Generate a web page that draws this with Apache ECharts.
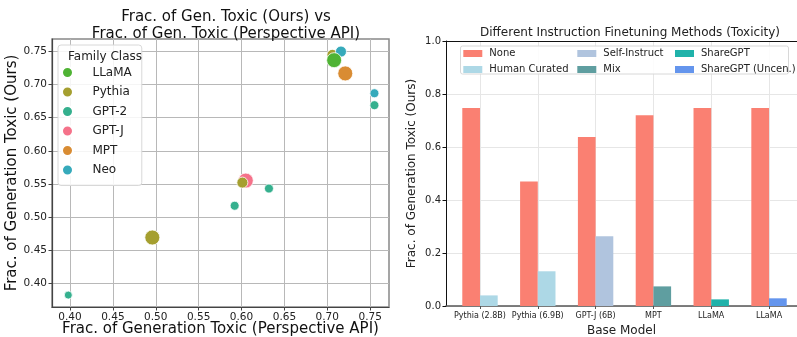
<!DOCTYPE html>
<html>
<head>
<meta charset="utf-8">
<script src="https://cdn.jsdelivr.net/npm/echarts@6/dist/echarts.min.js"></script>
<style>
  html, body { margin: 0; padding: 0; background: #fff; }
  #chart { width: 797px; height: 337px; }
</style>
</head>
<body>
<div id="chart"></div>
<script type="text/javascript">
// ---- left panel: [perspective api, ours, marker size] per family ----
var famLegend = ['LLaMA', 'Pythia', 'GPT-2', 'GPT-J', 'MPT', 'Neo'];
var famColors = ['#4fb334', '#a59f30', '#35b08e', '#f5728a', '#d98c33', '#36aabb'];
var llamaPts  = [[0.708, 0.737, 15]];
var pythiaPts = [[0.706, 0.745, 11], [0.601, 0.552, 11], [0.496, 0.469, 15]];
var gpt2Pts   = [[0.755, 0.669, 9], [0.632, 0.543, 9], [0.592, 0.517, 9], [0.398, 0.382, 8]];
var gptjPts   = [[0.605, 0.555, 15]];
var mptPts    = [[0.721, 0.717, 15]];
var neoPts    = [[0.716, 0.750, 11], [0.755, 0.687, 9]];
var scatterXTicks = [0.40, 0.45, 0.50, 0.55, 0.60, 0.65, 0.70, 0.75];
var scatterYTicks = [0.40, 0.45, 0.50, 0.55, 0.60, 0.65, 0.70, 0.75];

// ---- right panel ----
var baseModels = ['Pythia (2.8B)', 'Pythia (6.9B)', 'GPT-J (6B)', 'MPT', 'LLaMA', 'LLaMA'];
var noneVals   = [0.747, 0.470, 0.638, 0.720, 0.747, 0.747];
var ftMethods  = ['Human Curated', 'Human Curated', 'Self-Instruct', 'Mix', 'ShareGPT', 'ShareGPT (Uncen.)'];
var ftVals     = [0.040, 0.131, 0.263, 0.074, 0.025, 0.029];
var methodNames  = ['None', 'Human Curated', 'Self-Instruct', 'Mix', 'ShareGPT', 'ShareGPT (Uncen.)'];
var methodColors = ['#fa8072', '#add8e6', '#b0c4de', '#5f9ea0', '#20b2aa', '#6495ed'];
var barTicks = [0, 1, 2, 3, 4, 5];

var FONT = 'DejaVu Sans';
var chart = echarts.init(document.getElementById('chart'));

var famData = { 'LLaMA': llamaPts, 'Pythia': pythiaPts, 'GPT-2': gpt2Pts, 'GPT-J': gptjPts, 'MPT': mptPts, 'Neo': neoPts };
var drawOrder = ['GPT-J', 'GPT-2', 'Pythia', 'MPT', 'Neo', 'LLaMA'];

var series = [];
drawOrder.forEach(function (f) {
  series.push({
    name: f, type: 'scatter', xAxisIndex: 0, yAxisIndex: 0,
    data: famData[f],
    symbolSize: function (d) { return d[2]; },
    itemStyle: { color: famColors[famLegend.indexOf(f)], borderColor: '#fff', borderWidth: 0.8, opacity: 1 },
    emphasis: { disabled: true }
  });
});

// None bars
series.push({
  name: 'None', type: 'bar', xAxisIndex: 1, yAxisIndex: 1, stack: 'base',
  barWidth: 17.7, barGap: '0%',
  data: noneVals.map(function (v, i) { return [i, v]; }),
  itemStyle: { color: methodColors[0] }
});
// finetuned bars, one series per method
methodNames.slice(1).forEach(function (m) {
  var d = [];
  ftMethods.forEach(function (fm, i) { if (fm === m) d.push([i, ftVals[i]]); });
  series.push({
    name: m, type: 'bar', xAxisIndex: 1, yAxisIndex: 1, stack: 'ft',
    barWidth: 17.7, barGap: '0%',
    data: d,
    itemStyle: { color: methodColors[methodNames.indexOf(m)] }
  });
});

function barLegend(names, left) {
  return {
    orient: 'vertical', left: left, top: 48.5, padding: 0,
    data: names, icon: 'rect', itemWidth: 19, itemHeight: 7, itemGap: 6,
    textStyle: { fontFamily: FONT, fontSize: 10, color: '#222', padding: [0, 0, 0, 2] },
    selectedMode: false, z: 5
  };
}

var option = {
  animation: false,
  textStyle: { fontFamily: FONT },
  title: [
    { text: 'Frac. of Gen. Toxic (Ours) vs\nFrac. of Gen. Toxic (Perspective API)',
      left: 221, top: 4, textAlign: 'center',
      textStyle: { fontFamily: FONT, fontSize: 15, fontWeight: 'normal', color: '#111', lineHeight: 17 } },
    { text: 'Family Class', left: 100, top: 46, textAlign: 'center',
      textStyle: { fontFamily: FONT, fontSize: 12, fontWeight: 'normal', color: '#222' }, z: 6 },
    { text: 'Different Instruction Finetuning Methods (Toxicity)', left: 625, top: 22, textAlign: 'center',
      textStyle: { fontFamily: FONT, fontSize: 12, fontWeight: 'normal', color: '#222' } }
  ],
  legend: [
    {
      orient: 'vertical', left: 58, top: 45, padding: [21, 10, 9, 3],
      data: famLegend, icon: 'circle', itemWidth: 30, itemHeight: 11, itemGap: 6.5,
      textStyle: { fontFamily: FONT, fontSize: 12, color: '#222', padding: [0, 0, 0, 5] },
      backgroundColor: 'rgba(255,255,255,0.85)', borderColor: '#d8d8d8', borderWidth: 1, borderRadius: 3,
      selectedMode: false, z: 5
    },
    barLegend(['None', 'Human Curated'], 463.3),
    barLegend(['Self-Instruct', 'Mix'], 577.3),
    barLegend(['ShareGPT', 'ShareGPT (Uncen.)'], 675)
  ],
  graphic: [
    { type: 'rect', left: 460, top: 45.5, shape: { width: 328, height: 28, r: 2 },
      style: { fill: 'rgba(255,255,255,0.85)', stroke: '#d8d8d8', lineWidth: 1 }, z: 3 }
  ],
  grid: [
    { left: 52, top: 39, width: 337, height: 268, show: true, borderColor: '#888', borderWidth: 1.5,
      backgroundColor: 'transparent', outerBoundsMode: 'none' },
    { left: 446, top: 41, width: 351, height: 265, outerBoundsMode: 'none' }
  ],
  xAxis: [
    {
      type: 'value', gridIndex: 0, min: 0.379, max: 0.772,
      name: 'Frac. of Generation Toxic (Perspective API)', nameLocation: 'middle', nameGap: 15,
      nameMoveOverlap: false,
      nameTextStyle: { fontFamily: FONT, fontSize: 15, color: '#111' },
      axisLine: { show: true, onZero: false, lineStyle: { color: '#444', width: 1.2 } },
      axisTick: { show: true, length: 3.5, lineStyle: { color: '#444' }, customValues: scatterXTicks },
      axisLabel: { customValues: scatterXTicks, fontSize: 10.5, color: '#222', margin: 5,
        formatter: function (v) { return v.toFixed(2); } },
      splitLine: { show: true, lineStyle: { color: '#b8b8b8', width: 1 } }
    },
    {
      type: 'value', gridIndex: 1, min: -0.588, max: 5.484,
      name: 'Base Model', nameLocation: 'middle', nameGap: 19,
      nameMoveOverlap: false,
      nameTextStyle: { fontFamily: FONT, fontSize: 12, color: '#222' },
      axisLine: { show: true, onZero: false, lineStyle: { color: '#555', width: 1.5 } },
      axisTick: { show: true, length: 3, lineStyle: { color: '#555' }, customValues: barTicks },
      axisLabel: { customValues: barTicks, fontSize: 8, color: '#222', margin: 6,
        formatter: function (v) { return baseModels[Math.round(v)]; } },
      splitLine: { show: true, lineStyle: { color: '#e6e6e6', width: 1 } }
    },
    {
      type: 'value', gridIndex: 1, position: 'top', min: 0, max: 1,
      axisLine: { show: true, onZero: false, lineStyle: { color: '#111', width: 1 } },
      axisTick: { show: false }, axisLabel: { show: false }, splitLine: { show: false }
    }
  ],
  yAxis: [
    {
      type: 'value', gridIndex: 0, min: 0.364, max: 0.769,
      name: 'Frac. of Generation Toxic (Ours)', nameLocation: 'middle', nameGap: 27,
      nameTextStyle: { fontFamily: FONT, fontSize: 15, color: '#111' },
      axisLine: { show: true, onZero: false, lineStyle: { color: '#444', width: 1.2 } },
      axisTick: { show: true, length: 3.5, lineStyle: { color: '#444' }, customValues: scatterYTicks },
      axisLabel: { customValues: scatterYTicks, fontSize: 10.5, color: '#222', margin: 5,
        formatter: function (v) { return v.toFixed(2); } },
      splitLine: { show: true, lineStyle: { color: '#b8b8b8', width: 1 } }
    },
    {
      type: 'value', gridIndex: 1, min: 0, max: 1, interval: 0.2,
      name: 'Frac. of Generation Toxic (Ours)', nameLocation: 'middle', nameGap: 28,
      nameTextStyle: { fontFamily: FONT, fontSize: 12, color: '#222' },
      axisLine: { show: true, onZero: false, lineStyle: { color: '#111', width: 1 } },
      axisTick: { show: true, length: 3.5, lineStyle: { color: '#111' } },
      axisLabel: { fontSize: 10, color: '#222', margin: 5,
        formatter: function (v) { return v.toFixed(1); } },
      splitLine: { show: true, lineStyle: { color: '#e6e6e6', width: 1 } }
    }
  ],
  series: series
};

chart.setOption(option);
</script>
</body>
</html>
